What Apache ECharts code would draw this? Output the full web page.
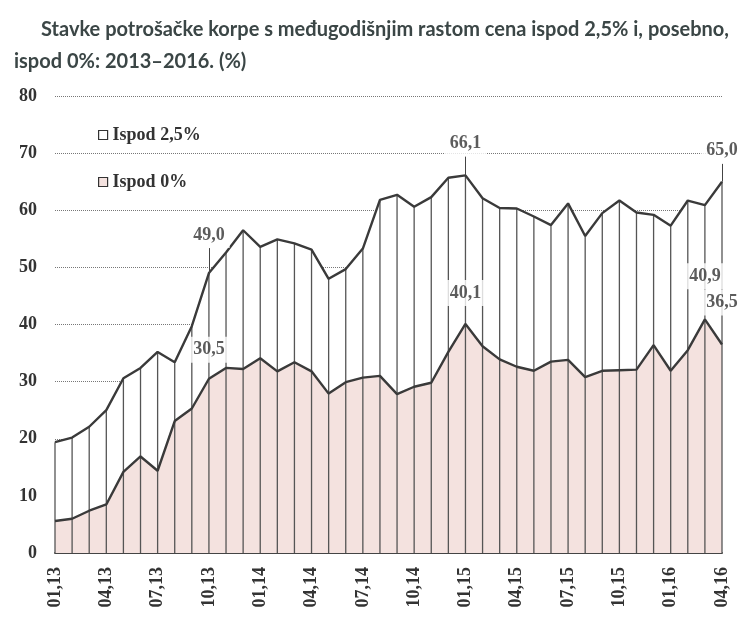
<!DOCTYPE html>
<html><head><meta charset="utf-8">
<script src="https://cdn.jsdelivr.net/npm/echarts/dist/echarts.min.js"></script>
<style>html,body{margin:0;padding:0;background:#fff}#c{width:747px;height:630px}</style>
</head><body><div id="c"></div>
<script>
const categories = ['01,13','02,13','03,13','04,13','05,13','06,13','07,13','08,13','09,13','10,13','11,13','12,13',
  '01,14','02,14','03,14','04,14','05,14','06,14','07,14','08,14','09,14','10,14','11,14','12,14',
  '01,15','02,15','03,15','04,15','05,15','06,15','07,15','08,15','09,15','10,15','11,15','12,15',
  '01,16','02,16','03,16','04,16'];
const ispod25 = [19.4,20.2,22.1,25.0,30.6,32.4,35.2,33.4,39.7,49.0,52.6,56.5,
  53.6,54.9,54.2,53.1,48.0,49.7,53.3,61.8,62.7,60.6,62.3,65.7,
  66.1,62.1,60.4,60.3,58.9,57.4,61.2,55.5,59.5,61.7,59.6,59.2,
  57.3,61.7,60.9,65.0];
const ispod0 = [5.6,6.0,7.4,8.5,14.2,16.9,14.4,23.1,25.3,30.5,32.4,32.2,
  34.1,31.8,33.4,31.8,27.9,29.9,30.7,31.0,27.8,29.1,29.8,35.2,
  40.1,36.2,33.9,32.6,31.9,33.5,33.8,30.8,31.9,32.0,32.1,36.4,
  31.9,35.5,40.9,36.5];
const upperLabelIdx = [9, 24, 39];
const lowerLabelIdx = [9, 24, 38, 39];
const seriesNames = ['Ispod 2,5%', 'Ispod 0%'];

// label placement (style, px above point)
const upperDist = {9: 25, 24: 19, 39: 18};
const lowerDist = {9: 16, 24: 18, 38: 30, 39: 29};
const PX_PER_UNIT = 457 / 80;

const PINK = '#f4e2df';
const INK = '#3a3a3a';
const serif = 'Liberation Serif';
const fmt = v => v.toFixed(1).replace('.', ',');

function labelSeries(idx, values, dist) {
  return {
    type: 'scatter', data: [[idx, values[idx]]], symbolSize: 0, silent: true, z: 6,
    labelLayout: {hideOverlap: false},
    label: {
      show: true, position: 'top', distance: dist, fontFamily: serif, fontWeight: 'bold', fontSize: 18,
      color: '#333', backgroundColor: '#ffffff', padding: [4, 5], lineHeight: 18,
      formatter: p => fmt(p.value[1])
    }
  };
}
const labelSeriesList = [];
upperLabelIdx.forEach(i => labelSeriesList.push(labelSeries(i, ispod25, upperDist[i])));
lowerLabelIdx.forEach(i => labelSeriesList.push(labelSeries(i, ispod0, lowerDist[i])));
const leaders = upperLabelIdx.map(i => [
  {coord: [i, ispod25[i]]},
  {coord: [i, ispod25[i] + upperDist[i] / PX_PER_UNIT]}
]);

const chart = echarts.init(document.getElementById('c'), null, {renderer: 'canvas'});
chart.setOption({
  animation: false,
  backgroundColor: '#ffffff',
  title: [
    {text: 'Stavke potrošačke korpe s međugodišnjim rastom cena ispod 2,5% i, posebno,', left: 36, top: 15,
     textStyle: {fontFamily: 'Lato', fontWeight: 'bold', fontSize: 20, color: '#3b4646'}},
    {text: 'ispod 0%: 2013–2016. (%)', left: 9, top: 47,
     textStyle: {fontFamily: 'Lato', fontWeight: 'bold', fontSize: 20, color: '#3b4646'}}
  ],
  legend: {
    orient: 'vertical', left: 93, top: 120, itemWidth: 9, itemHeight: 9, itemGap: 27,
    selectedMode: false,
    data: [
      {name: seriesNames[0], icon: 'rect', itemStyle: {color: '#ffffff', borderColor: '#333', borderWidth: 1.2}},
      {name: seriesNames[1], icon: 'rect', itemStyle: {color: PINK, borderColor: '#333', borderWidth: 1.2}}
    ],
    textStyle: {fontFamily: serif, fontWeight: 'bold', fontSize: 18, color: '#333', lineHeight: 20}
  },
  grid: {left: 55, right: 25, top: 96, bottom: 77},
  xAxis: {
    type: 'category', data: categories, boundaryGap: false,
    axisLine: {lineStyle: {color: '#444', width: 2}},
    axisTick: {show: false},
    axisLabel: {interval: 2, rotate: 90, margin: 14, fontFamily: serif, fontWeight: 'bold', fontSize: 18, color: '#333'},
    splitLine: {show: false}
  },
  yAxis: {
    type: 'value', min: 0, max: 80, interval: 10,
    axisLine: {show: false}, axisTick: {show: false},
    axisLabel: {margin: 18, fontFamily: serif, fontWeight: 'bold', fontSize: 18, color: '#333'},
    splitLine: {lineStyle: {type: 'dotted', color: '#777', width: 1}}
  },
  series: [
    {type: 'line', name: 'areaUpper', data: ispod25, showSymbol: false, silent: true, z: 1,
     lineStyle: {width: 0}, areaStyle: {color: '#ffffff', opacity: 1}},
    {type: 'line', name: 'areaLower', data: ispod0, showSymbol: false, silent: true, z: 2,
     lineStyle: {width: 0}, areaStyle: {color: PINK, opacity: 1}},
    {type: 'bar', name: 'drops', data: ispod25, barWidth: 1.3, clip: false, silent: true, z: 3,
     itemStyle: {color: '#555'}},
    {type: 'line', name: seriesNames[0], data: ispod25, showSymbol: false, z: 4,
     itemStyle: {color: '#ffffff'}, lineStyle: {color: INK, width: 2.4},
     markLine: {silent: true, symbol: ['none', 'none'], label: {show: false},
       lineStyle: {color: '#444', width: 1, type: 'solid'}, data: leaders}},
    {type: 'line', name: seriesNames[1], data: ispod0, showSymbol: false, z: 4,
     itemStyle: {color: PINK}, lineStyle: {color: INK, width: 2.4}}
  ].concat(labelSeriesList)
});
</script></body></html>
